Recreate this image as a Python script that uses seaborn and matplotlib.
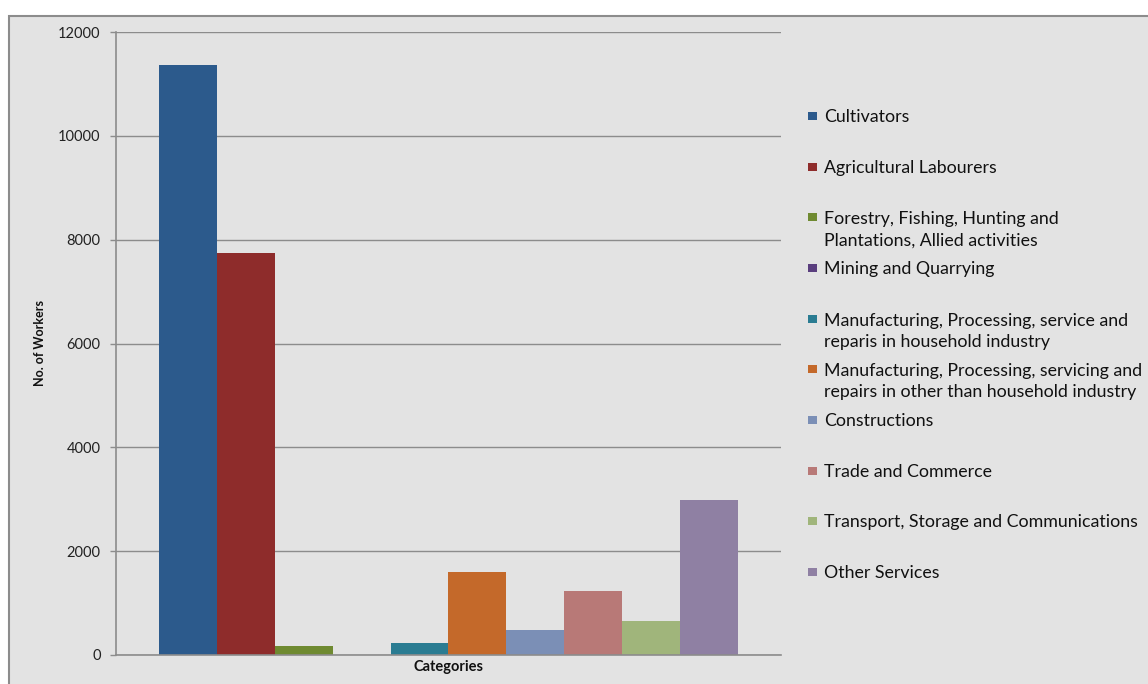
import matplotlib
matplotlib.use("Agg")
import matplotlib.pyplot as plt
from matplotlib.patches import Rectangle
import pandas as pd
import seaborn as sns

# Workers by industrial category
categories = [
    "Cultivators",
    "Agricultural Labourers",
    "Forestry, Fishing, Hunting and\nPlantations, Allied activities",
    "Mining and Quarrying",
    "Manufacturing, Processing, service and\nreparis in household industry",
    "Manufacturing, Processing, servicing and\nrepairs in other than household industry",
    "Constructions",
    "Trade and Commerce",
    "Transport, Storage and Communications",
    "Other Services",
]
workers = [11370, 7745, 173, 0, 237, 1593, 488, 1239, 655, 2986]
colors = ["#2C5A8C", "#8E2C2B", "#6F8A31", "#5A3E7E", "#2A7C92",
          "#C4692A", "#7B8FB6", "#B87977", "#A0B57B", "#8F80A3"]
y_ticks = [0, 2000, 4000, 6000, 8000, 10000, 12000]
group_label = "Categories"

W, H = 1148, 684
BG = "#E3E3E3"
EDGE = "#8C8C8C"

sns.set_theme(style="white")
plt.rcParams["font.family"] = ["Lato", "DejaVu Sans"]

fig = plt.figure(figsize=(W / 100, H / 100), dpi=100, facecolor="white")

# chart area frame, behind the axes
fig.patches.append(Rectangle((9 / W, -0.05), 1.2, (H - 16) / H + 0.05,
                             transform=fig.transFigure, facecolor=BG,
                             edgecolor=EDGE, lw=1.5, zorder=-5))

ax = fig.add_axes([116 / W, 29 / H, 665 / W, 623 / H])
ax.set_zorder(1)
ax.set_facecolor(BG)

df = pd.DataFrame({"group": [group_label] * len(categories),
                   "category": categories,
                   "workers": workers})
sns.barplot(data=df, x="group", y="workers", hue="category",
            hue_order=categories, palette=colors, width=0.872,
            saturation=1, errorbar=None, legend=False, ax=ax,
            linewidth=0)

ax.set_xlim(-0.5, 0.5)
ax.set_ylim(0, 12000)
ax.set_yticks(y_ticks)
ax.set_yticklabels([str(v) for v in y_ticks])
ax.set_xticks([])
ax.yaxis.grid(True, color=EDGE, lw=1.0)
ax.set_axisbelow(True)
for side in ("top", "right"):
    ax.spines[side].set_visible(False)
for side in ("left", "bottom"):
    ax.spines[side].set_color(EDGE)
    ax.spines[side].set_linewidth(1.2)
ax.tick_params(axis="y", direction="out", length=4, color=EDGE, width=1,
               labelsize=10.5, pad=7, labelcolor="#222222", left=True)

ax.set_ylabel("No. of Workers", fontsize=9, fontweight="bold", color="#111111")
ax.yaxis.set_label_coords(-0.105, 0.5)
ax.set_xlabel(group_label, fontsize=10.5, fontweight="bold", color="#111111")
ax.xaxis.set_label_coords(0.5, -0.008)

# legend: colour swatch and label for each category
step = 50.67
for i, (name, col) in enumerate(zip(categories, colors)):
    y0 = 117 + i * step
    nlines = name.count("\n") + 1
    fig.patches.append(Rectangle((808 / W, 1 - (y0 + 3) / H), 9 / W, 8 / H,
                                 transform=fig.transFigure, facecolor=col,
                                 edgecolor="none", zorder=3))
    fig.text(824 / W, 1 - (y0 + (nlines - 1) * 11.5) / H, name,
             fontsize=12.8, va="center", ha="left", color="#111111",
             linespacing=1.387)

fig.savefig("out.png", dpi=100, facecolor="white")
